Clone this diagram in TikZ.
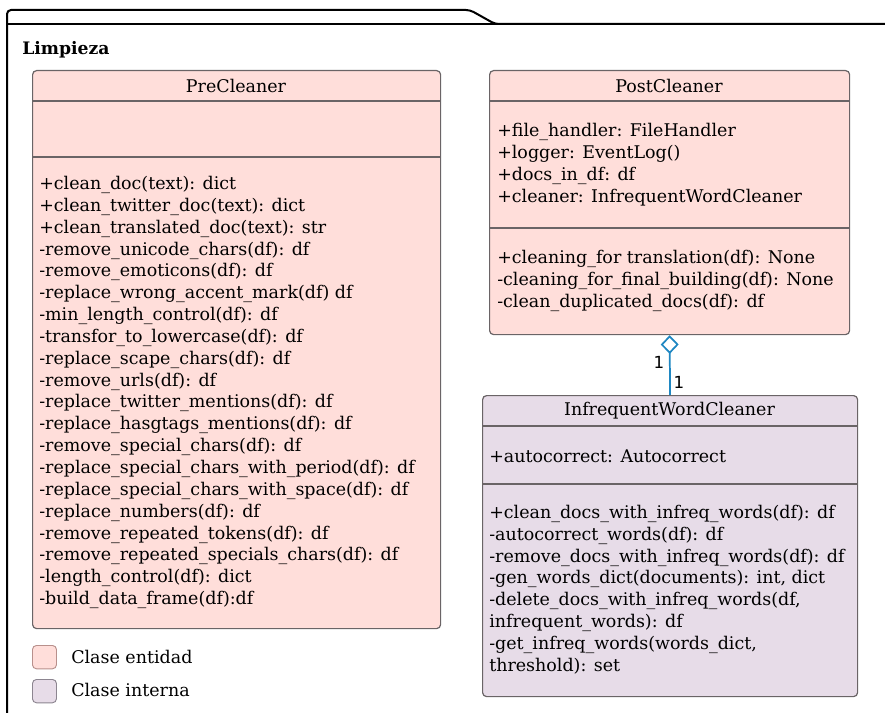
\documentclass[tikz,border=0pt]{standalone}
\usepackage{fontspec}
\setmainfont{DejaVu Serif}
\newfontfamily\labelfont{DejaVu Sans}
\usetikzlibrary{arrows.meta}
\definecolor{entity}{HTML}{FFDEDA}
\definecolor{internal}{HTML}{E7DCE8}
\definecolor{boxline}{HTML}{6A6466}
\definecolor{assoc}{HTML}{1F87C2}
\definecolor{entityedge}{HTML}{B8908C}
\definecolor{internaledge}{HTML}{8C8590}
\begin{document}
\begin{tikzpicture}[x=0.75pt,y=-0.75pt,
  classbox/.style={draw=boxline, line width=0.9pt, rounded corners=3pt, anchor=north west, inner sep=0pt},
  divider/.style={draw=boxline, line width=0.9pt},
  member/.style={anchor=west, inner sep=0pt, font=\fontsize{13.1}{15}\selectfont},
  classname/.style={anchor=center, inner sep=0pt, font=\fontsize{13.1}{15}\selectfont},
  mult/.style={inner sep=0pt, font=\labelfont\fontsize{12.5}{14}\selectfont},
  swatch/.style={line width=0.7pt, rounded corners=3pt, anchor=north west, inner sep=0pt, minimum width=18pt, minimum height=17.5pt}]
\useasboundingbox (0,0) rectangle (885,713);
\begin{scope}
\clip (0,0) rectangle (885,713);
% package frame with its tab
\draw[line width=1.5pt, rounded corners=3pt] (7,730) -- (7,10) -- (470,10) -- (495,24) -- (900,24);
\draw[line width=1.5pt] (7,24) -- (900,24);
\end{scope}
\node[anchor=west, inner sep=0pt, font=\fontsize{12.9}{16}\selectfont\bfseries] (pkg) at (22,50) {Limpieza};

% PreCleaner
\node[classbox, fill=entity, minimum width=306pt, minimum height=418.5pt] (pre) at (32,70) {};
\draw[divider] (32,101) -- (440,101);
\draw[divider] (32,157) -- (440,157);
\node[classname] (preT) at (236,85.5) {PreCleaner};
\foreach \t [count=\i from 0] in {
  +clean\_doc(text): dict,
  +clean\_twitter\_doc(text): dict,
  +clean\_translated\_doc(text): str,
  -remove\_unicode\_chars(df): df,
  -remove\_emoticons(df): df,
  -replace\_wrong\_accent\_mark(df) df,
  -min\_length\_control(df): df,
  -transfor\_to\_lowercase(df): df,
  -replace\_scape\_chars(df): df,
  -remove\_urls(df): df,
  -replace\_twitter\_mentions(df): df,
  -replace\_hasgtags\_mentions(df): df,
  -remove\_special\_chars(df): df,
  -replace\_special\_chars\_with\_period(df): df,
  -replace\_special\_chars\_with\_space(df): df,
  -replace\_numbers(df): df,
  -remove\_repeated\_tokens(df): df,
  -remove\_repeated\_specials\_chars(df): df,
  -length\_control(df): dict,
  -build\_data\_frame(df):df}
  \node[member] (preM\i) at (39,185+21.84*\i) {\t};

% PostCleaner
\node[classbox, fill=entity, minimum width=270pt, minimum height=198pt] (post) at (489,70) {};
\draw[divider] (489,101) -- (849,101);
\draw[divider] (489,228) -- (849,228);
\node[classname] (postT) at (669,85.5) {PostCleaner};
\foreach \t [count=\i from 0] in {
  +file\_handler: FileHandler,
  +logger: EventLog(),
  +docs\_in\_df: df,
  +cleaner: InfrequentWordCleaner}
  \node[member] (postA\i) at (497,132+21.8*\i) {\t};
\foreach \t [count=\i from 0] in {
  +cleaning\_for translation(df): None,
  -cleaning\_for\_final\_building(df): None,
  -clean\_duplicated\_docs(df): df}
  \node[member] (postM\i) at (497,259+21.8*\i) {\t};

% InfrequentWordCleaner
\node[classbox, fill=internal, minimum width=281.25pt, minimum height=225.75pt] (iwc) at (482,395) {};
\draw[divider] (482,426) -- (857,426);
\draw[divider] (482,484) -- (857,484);
\node[classname] (iwcT) at (669.5,410.5) {InfrequentWordCleaner};
\node[member] (iwcA0) at (489,456) {+autocorrect: Autocorrect};
\foreach \t [count=\i from 0] in {
  +clean\_docs\_with\_infreq\_words(df): df,
  -autocorrect\_words(df): df,
  -remove\_docs\_with\_infreq\_words(df): df,
  -gen\_words\_dict(documents): int{,} dict,
  -delete\_docs\_with\_infreq\_words(df{,},
  infrequent\_words): df,
  -get\_infreq\_words(words\_dict{,},
  threshold): set}
  \node[member] (iwcM\i) at (489,514+21.8*\i) {\t};

% aggregation PostCleaner <>-- InfrequentWordCleaner
\draw[assoc, line width=1.3pt, -{Diamond[open, length=14pt, width=13.5pt, line width=1.3pt]}] (iwc.north) -- (post.south);
\node[mult] (m1) at (659,362) {1};
\node[mult] (m2) at (679,382) {1};

% legend
\node[swatch, draw=entityedge, fill=entity] (sw1) at (32,645) {};
\node[swatch, draw=internaledge, fill=internal] (sw2) at (32,679) {};
\node[member] (lg1) at (71,657) {Clase entidad};
\node[member] (lg2) at (71,690) {Clase interna};
\end{tikzpicture}
\end{document}
